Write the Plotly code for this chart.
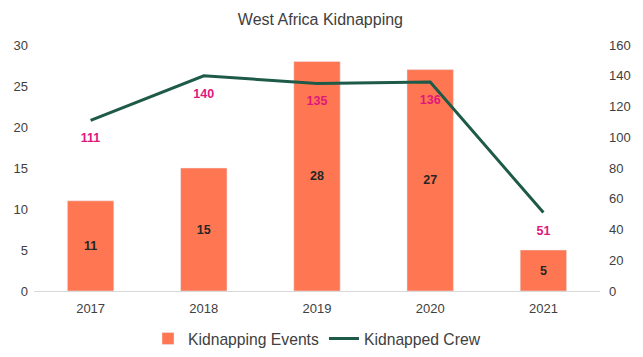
import plotly.graph_objects as go

years = ["2017", "2018", "2019", "2020", "2021"]
events = [11, 15, 28, 27, 5]
crew = [111, 140, 135, 136, 51]

bar_color = "#FF7752"
line_color = "#1E5A48"
label_color = "#E0177A"
font = "Liberation Sans, Arial, sans-serif"

fig = go.Figure()
fig.add_trace(go.Bar(
    x=years, y=events, name="Kidnapping Events",
    marker=dict(color=bar_color),
    text=[f"<b>{v}</b>" for v in events], textposition="inside",
    insidetextanchor="middle",
    textfont=dict(color="#262626", size=12.5),
))
fig.add_trace(go.Scatter(
    x=years, y=crew, name="Kidnapped Crew", mode="lines",
    line=dict(color=line_color, width=3),
    yaxis="y2",
))
# data labels for the crew line, drawn on a hidden axis offset slightly below y2
fig.add_trace(go.Scatter(
    x=years, y=crew, mode="text", showlegend=False, hoverinfo="skip",
    text=[f"<b>{v}</b>" for v in crew], textposition="middle center",
    textfont=dict(color=label_color, size=12.5),
    yaxis="y3",
))

off = 19 * 160 / 247

fig.update_layout(
    width=635, height=349,
    margin=dict(l=26, r=43, t=37, b=66, autoexpand=False),
    paper_bgcolor="white", plot_bgcolor="white",
    title=dict(text="West Africa Kidnapping", x=0.492, xanchor="center",
               y=0.968, yanchor="middle",
               font=dict(size=16, color="#404040")),
    font=dict(family=font, size=13, color="#404040"),
    bargap=0.59,
    legend=dict(orientation="h", x=0.5, xanchor="center", y=-0.125, yanchor="top",
                font=dict(size=15.7, color="#404040")),
    xaxis=dict(type="category", showgrid=False, showline=True, linecolor="#d9d9d9",
               linewidth=1, ticks="", ticklabelstandoff=5),
    yaxis=dict(range=[0, 30], dtick=5, showgrid=False, zeroline=False, ticks="",
               ticklabelstandoff=5),
    yaxis2=dict(range=[0, 160], dtick=20, overlaying="y", side="right",
                showgrid=False, zeroline=False, ticks="", ticklabelstandoff=8),
    yaxis3=dict(range=[off, 160 + off], overlaying="y", visible=False),
)

fig.write_html("out.html")
